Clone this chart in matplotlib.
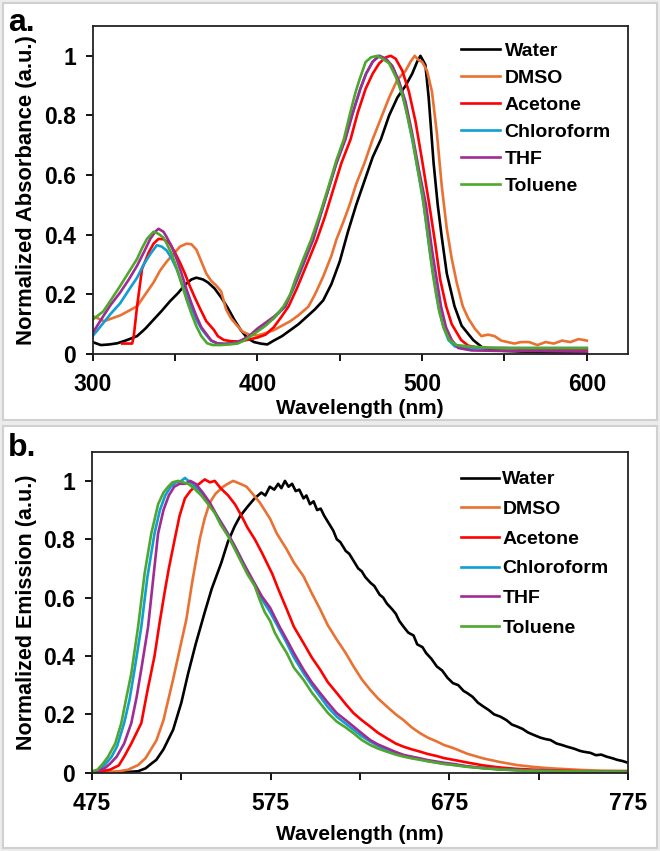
import numpy as np
import matplotlib
matplotlib.use("Agg")
import matplotlib.pyplot as plt
from matplotlib.patches import Rectangle

plt.rcParams['font.family'] = ['Liberation Sans Narrow', 'Liberation Sans', 'DejaVu Sans']

# ---- (a) absorbance: (wavelength [nm], normalized absorbance) ----
abs_water = [(300, 0.04), (305, 0.03), (310, 0.032), (315, 0.036), (320, 0.045), (327, 0.06),
             (332, 0.085), (337, 0.115), (342, 0.145), (347, 0.177), (352, 0.205), (356, 0.232),
             (360, 0.25), (363, 0.256), (367, 0.25), (370, 0.24), (374, 0.22), (378, 0.19),
             (382, 0.155), (386, 0.115), (390, 0.08), (394, 0.053), (398, 0.04), (402, 0.035),
             (406, 0.032), (410, 0.045), (415, 0.06), (420, 0.08), (425, 0.1), (430, 0.125),
             (435, 0.15), (440, 0.18), (445, 0.235), (450, 0.31), (455, 0.41), (460, 0.5),
             (465, 0.58), (470, 0.66), (475, 0.72), (480, 0.8), (485, 0.86), (490, 0.9),
             (494, 0.94), (497, 0.98), (499, 1.0), (502, 0.97), (504, 0.86), (507, 0.64),
             (509.5, 0.5), (512, 0.39), (515, 0.27), (519.7, 0.16), (524, 0.095), (531, 0.047),
             (537, 0.02), (545, 0.012), (560, 0.008), (580, 0.006), (600, 0.005)]
abs_dmso = [(300, 0.127), (303, 0.12), (307, 0.11), (312, 0.12), (317, 0.13), (322, 0.145),
            (327, 0.16), (332, 0.2), (337, 0.24), (341, 0.28), (345, 0.31), (349, 0.335),
            (353, 0.36), (357, 0.37), (360, 0.368), (363, 0.35), (366, 0.31), (369, 0.27),
            (372, 0.245), (375, 0.23), (378, 0.21), (381, 0.15), (384, 0.12), (387, 0.1),
            (391, 0.075), (395, 0.065), (400, 0.062), (405, 0.07), (410, 0.08), (415, 0.095),
            (420, 0.11), (425, 0.13), (431, 0.159), (435, 0.2), (440, 0.26), (445, 0.33),
            (448, 0.384), (452, 0.44), (456, 0.5), (460, 0.57), (465, 0.64), (470, 0.72),
            (475, 0.79), (480, 0.86), (485, 0.92), (490, 0.95), (493, 0.98), (495.5, 1.0),
            (498, 0.985), (500, 0.98), (503, 0.95), (506, 0.88), (509, 0.74), (512, 0.56),
            (515, 0.42), (518, 0.32), (521, 0.24), (524.7, 0.16), (528, 0.12), (532, 0.085),
            (536, 0.06), (540, 0.065), (544, 0.06), (548, 0.045), (552, 0.04), (556, 0.035),
            (560, 0.04), (565, 0.04), (570, 0.03), (575, 0.04), (580, 0.035), (585, 0.045),
            (590, 0.04), (595, 0.05), (600, 0.045)]
abs_acetone = [(318, 0.035), (321, 0.035), (324, 0.035), (325, 0.06), (327, 0.16), (330, 0.285),
               (334, 0.34), (337, 0.37), (340, 0.386), (343, 0.385), (347, 0.37), (350, 0.34),
               (353, 0.307), (356, 0.27), (359, 0.228), (362, 0.19), (365.5, 0.149), (369, 0.11),
               (373.6, 0.081), (376, 0.06), (379.7, 0.047), (384, 0.043), (388, 0.042), (392, 0.045),
               (396, 0.05), (400, 0.055), (405, 0.065), (410, 0.09), (414, 0.12), (418.9, 0.159),
               (424, 0.22), (430, 0.3), (436.2, 0.384), (441, 0.46), (446, 0.55), (451, 0.64),
               (456.6, 0.72), (461, 0.81), (465.7, 0.889), (470, 0.94), (474, 0.975), (478, 0.995),
               (481, 1.0), (484, 0.99), (488, 0.95), (492, 0.88), (496, 0.78), (500, 0.65),
               (504.4, 0.5), (508, 0.37), (511, 0.25), (514.6, 0.16), (518, 0.1), (523.7, 0.047),
               (528, 0.028), (535, 0.02), (550, 0.02), (570, 0.015), (600, 0.015)]
abs_chloroform = [(300, 0.06), (303, 0.08), (306.5, 0.104), (311, 0.135), (316.7, 0.17), (322, 0.215),
                  (327, 0.256), (331, 0.3), (335, 0.335), (339, 0.365), (342, 0.36), (345, 0.347),
                  (348, 0.32), (351, 0.285), (354, 0.24), (357, 0.194), (360, 0.155), (363, 0.115),
                  (366, 0.085), (369.5, 0.06), (372, 0.045), (375.6, 0.036), (380, 0.034), (385, 0.036),
                  (390, 0.042), (395, 0.058), (400, 0.08), (405, 0.1), (410, 0.12), (416.9, 0.159),
                  (422, 0.22), (428, 0.3), (433.6, 0.384), (438, 0.46), (443, 0.55), (448, 0.64),
                  (453, 0.72), (458, 0.81), (462.5, 0.889), (466, 0.94), (470, 0.98), (474, 1.0),
                  (478, 0.99), (482, 0.965), (486, 0.91), (490, 0.83), (494, 0.72), (498, 0.6),
                  (501, 0.5), (505, 0.33), (510, 0.16), (513, 0.09), (516, 0.047), (520, 0.025),
                  (525, 0.02), (540, 0.02), (560, 0.02), (580, 0.02), (600, 0.02)]
abs_thf = [(300, 0.07), (306.5, 0.127), (311, 0.165), (316.7, 0.206), (322, 0.25), (327, 0.296),
           (331, 0.34), (335, 0.386), (338, 0.41), (340, 0.42), (343, 0.41), (345, 0.392),
           (348, 0.36), (351, 0.319), (354, 0.27), (357, 0.217), (360, 0.17), (363, 0.127),
           (366, 0.09), (369.5, 0.064), (372, 0.045), (375.6, 0.036), (380, 0.034), (385, 0.036),
           (390, 0.045), (395, 0.06), (400, 0.085), (405, 0.105), (410, 0.125), (416.9, 0.159),
           (422, 0.225), (428, 0.305), (434, 0.384), (438, 0.46), (443, 0.55), (448, 0.64),
           (453.5, 0.72), (458, 0.81), (462.5, 0.889), (466, 0.94), (470, 0.98), (474, 1.0),
           (478, 0.99), (482, 0.965), (486, 0.915), (490, 0.845), (494, 0.74), (498, 0.62),
           (502.4, 0.5), (506, 0.35), (511.5, 0.16), (514.5, 0.09), (518, 0.047), (522, 0.02),
           (530, 0.012), (550, 0.01), (570, 0.01), (600, 0.008)]
abs_toluene = [(300, 0.115), (306.5, 0.143), (311, 0.18), (316.7, 0.228), (322, 0.275), (327, 0.319),
               (330, 0.355), (333, 0.386), (337, 0.41), (340, 0.403), (343, 0.39), (345, 0.37),
               (348, 0.335), (351, 0.29), (354, 0.235), (357, 0.183), (360, 0.135), (363, 0.093),
               (366, 0.06), (369.5, 0.036), (373, 0.03), (377.6, 0.03), (383, 0.032), (388, 0.035),
               (392, 0.045), (396, 0.06), (400, 0.075), (405, 0.095), (410, 0.12), (415.8, 0.159),
               (420, 0.2), (423, 0.249), (428, 0.32), (432.7, 0.384), (438, 0.47), (443.3, 0.563),
               (448, 0.65), (452.5, 0.72), (456, 0.8), (459.6, 0.878), (462, 0.92), (465.7, 0.979),
               (469, 0.995), (472.8, 1.0), (476, 0.99), (480, 0.975), (484, 0.93), (488, 0.87),
               (491, 0.8), (494.2, 0.72), (497, 0.63), (500.3, 0.53), (503.5, 0.4), (506.4, 0.272),
               (508.5, 0.2), (510.5, 0.14), (513, 0.09), (514.6, 0.07), (516.6, 0.047), (520.7, 0.03),
               (529, 0.025), (545, 0.02), (565, 0.02), (585, 0.02), (600, 0.02)]

# ---- (b) emission: (wavelength [nm], normalized emission) ----
em_water = [(475, 0.0), (490, 0.0), (496, 0.003), (500.8, 0.005), (505, 0.015), (508, 0.03),
            (511, 0.044), (515, 0.08), (520.4, 0.147), (525, 0.24), (528.8, 0.34), (533, 0.44),
            (538.1, 0.55), (542, 0.63), (547.4, 0.72), (551, 0.79), (554.9, 0.845), (558, 0.88),
            (562.4, 0.914), (566, 0.94), (569.8, 0.96), (572, 0.95), (574.5, 0.98), (577, 0.97),
            (579.2, 0.99), (581, 0.975), (583, 1.0), (585, 0.98), (587, 0.99), (589, 0.965),
            (591, 0.97), (593.4, 0.94), (595, 0.95), (597, 0.92), (599, 0.93), (601, 0.9),
            (603, 0.905), (605, 0.88), (608, 0.85), (610, 0.83), (612, 0.8), (614, 0.79),
            (617, 0.76), (619, 0.75), (621, 0.73), (624, 0.7), (626, 0.69), (628, 0.67),
            (631, 0.65), (633, 0.64), (636, 0.61), (638, 0.6), (640, 0.58), (643, 0.56),
            (645, 0.545), (647, 0.52), (649.4, 0.5), (652, 0.48), (655, 0.47), (657, 0.44),
            (660, 0.43), (662, 0.41), (665, 0.39), (668, 0.364), (671, 0.35), (674, 0.325),
            (677, 0.307), (680, 0.3), (683, 0.28), (685, 0.273), (688, 0.26), (691, 0.24),
            (694, 0.227), (697, 0.215), (700, 0.2), (703.6, 0.192), (707, 0.18), (710, 0.165),
            (713, 0.158), (716, 0.15), (719, 0.138), (722, 0.13), (726, 0.12), (729, 0.115),
            (731.6, 0.112), (735, 0.1), (738, 0.095), (741, 0.089), (745, 0.082), (748, 0.075),
            (750, 0.072), (754, 0.068), (757, 0.06), (760, 0.062), (763, 0.055), (766, 0.05),
            (769, 0.044), (772, 0.04), (775, 0.034)]
em_dmso = [(475, 0.0), (490, 0.005), (495, 0.01), (500.8, 0.026), (505, 0.05), (511, 0.11),
           (515, 0.18), (520.4, 0.32), (524, 0.42), (527.8, 0.525), (531, 0.65), (535.3, 0.8),
           (538, 0.87), (540.9, 0.925), (544, 0.955), (548.4, 0.98), (551, 0.99), (554, 1.0),
           (558, 0.99), (561.5, 0.98), (565, 0.955), (569, 0.925), (574.7, 0.87), (578.4, 0.82),
           (584, 0.765), (588, 0.72), (593.4, 0.673), (598, 0.615), (602.7, 0.56), (607, 0.505),
           (612, 0.456), (617, 0.41), (621.4, 0.364), (626, 0.32), (630.7, 0.284), (635, 0.255),
           (640, 0.227), (645, 0.2), (649.4, 0.18), (654, 0.155), (658.7, 0.135), (663, 0.12),
           (668, 0.107), (672, 0.095), (677.4, 0.084), (685, 0.065), (694, 0.049), (703, 0.037),
           (713, 0.026), (722, 0.02), (731.6, 0.015), (741, 0.012), (750, 0.009), (760, 0.007),
           (775, 0.006)]
em_acetone = [(475, 0.0), (485, 0.01), (490, 0.025), (493, 0.055), (497, 0.1), (502.6, 0.17),
              (506, 0.28), (510, 0.4), (513, 0.52), (515.7, 0.62), (518, 0.7), (521.3, 0.8),
              (524, 0.88), (527, 0.94), (530, 0.965), (532.5, 0.98), (535, 0.99), (538.1, 1.005),
              (541, 0.995), (543.7, 1.0), (547, 0.975), (551.2, 0.95), (555, 0.92), (558.7, 0.88),
              (562, 0.84), (566.1, 0.8), (570, 0.755), (573.6, 0.71), (576, 0.68), (579.2, 0.63),
              (584, 0.56), (588, 0.5), (593.4, 0.444), (598, 0.395), (602.7, 0.353), (607, 0.31),
              (612, 0.273), (617, 0.235), (621.4, 0.204), (626, 0.18), (630.7, 0.158), (635, 0.137),
              (640, 0.118), (645, 0.1), (649.4, 0.089), (654, 0.08), (658.7, 0.072), (663, 0.064),
              (668, 0.057), (672, 0.05), (677.4, 0.044), (685, 0.035), (694, 0.025), (703, 0.018),
              (713, 0.013), (730, 0.008), (750, 0.005), (775, 0.004)]
em_chloroform = [(475, 0.003), (478, 0.008), (481, 0.02), (484, 0.04), (486, 0.055), (489, 0.09),
                 (493, 0.17), (496, 0.25), (499, 0.36), (502.6, 0.5), (506, 0.67), (510, 0.82),
                 (513, 0.9), (516, 0.95), (519, 0.98), (522, 0.995), (525, 1.0), (527, 1.01),
                 (530, 0.995), (533, 0.98), (537, 0.955), (541, 0.92), (545, 0.88), (550, 0.83),
                 (555, 0.775), (560, 0.715), (565, 0.655), (570, 0.595), (574.7, 0.55), (580, 0.49),
                 (584, 0.444), (588, 0.395), (593.4, 0.341), (598, 0.3), (602.7, 0.261), (607, 0.225),
                 (612, 0.192), (617, 0.168), (621.4, 0.147), (626, 0.125), (630.7, 0.107), (635, 0.092),
                 (640, 0.078), (645, 0.066), (649.4, 0.057), (654, 0.051), (658.7, 0.046), (663, 0.04),
                 (668, 0.035), (672, 0.031), (677.4, 0.027), (685, 0.021), (694, 0.016), (703, 0.012),
                 (713, 0.009), (730, 0.006), (750, 0.004), (775, 0.003)]
em_thf = [(475, 0.0), (478, 0.005), (482, 0.015), (485, 0.03), (488.8, 0.055), (493, 0.1),
          (497, 0.17), (500, 0.26), (503, 0.37), (506.4, 0.5), (509, 0.65), (512, 0.82),
          (515, 0.9), (518, 0.95), (521, 0.98), (524, 0.99), (527, 0.99), (530, 1.0),
          (533, 0.99), (537, 0.96), (541, 0.925), (545, 0.88), (550, 0.83), (555, 0.775),
          (560, 0.715), (565, 0.66), (570, 0.605), (574.7, 0.565), (580, 0.5), (584, 0.456),
          (588, 0.41), (593.4, 0.353), (598, 0.31), (602.7, 0.273), (607, 0.24), (612, 0.204),
          (617, 0.18), (621.4, 0.158), (626, 0.135), (630.7, 0.112), (635, 0.097), (640, 0.084),
          (645, 0.071), (649.4, 0.061), (654, 0.055), (658.7, 0.049), (663, 0.043), (668, 0.038),
          (672, 0.034), (677.4, 0.03), (685, 0.022), (694, 0.016), (703, 0.012), (713, 0.009),
          (730, 0.006), (750, 0.004), (775, 0.003)]
em_toluene = [(475, 0.005), (478, 0.01), (481, 0.03), (484, 0.055), (488, 0.1), (491.4, 0.17),
              (494, 0.25), (497, 0.34), (500.8, 0.5), (504.5, 0.685), (508.2, 0.82), (512, 0.92),
              (515, 0.96), (517.6, 0.98), (520, 0.995), (523.2, 1.0), (526, 0.995), (528.8, 0.99),
              (532, 0.975), (536.2, 0.95), (540, 0.92), (543.7, 0.89), (547, 0.85), (551.2, 0.81),
              (555, 0.765), (558.7, 0.72), (562, 0.68), (566.1, 0.64), (569, 0.59), (571.7, 0.55),
              (574.7, 0.52), (577.3, 0.48), (580, 0.45), (584, 0.41), (588, 0.36), (593.4, 0.318),
              (598, 0.275), (602.7, 0.238), (607, 0.205), (612, 0.175), (617, 0.155), (621.4, 0.135),
              (626, 0.112), (630.7, 0.095), (635, 0.083), (640, 0.072), (645, 0.062), (649.4, 0.055),
              (654, 0.049), (658.7, 0.044), (663, 0.039), (668, 0.034), (672, 0.03), (677.4, 0.026),
              (685, 0.02), (694, 0.015), (703, 0.011), (713, 0.008), (730, 0.005), (750, 0.004),
              (775, 0.003)]

solvents = ['Water', 'DMSO', 'Acetone', 'Chloroform', 'THF', 'Toluene']
colors = ['#000000', '#E97132', '#FF0000', '#0F9ED5', '#A02B93', '#4EA72E']
abs_series = [abs_water, abs_dmso, abs_acetone, abs_chloroform, abs_thf, abs_toluene]
em_series = [em_water, em_dmso, em_acetone, em_chloroform, em_thf, em_toluene]

W, H = 660, 851
fig = plt.figure(figsize=(W / 100, H / 100), dpi=100)
fig.patch.set_facecolor('#ececec')

# white panel boxes with grey border, kept behind the axes
for (y0, y1) in [(3, 420), (426, 848)]:
    fig.patches.append(Rectangle((3 / W, 1 - y1 / H), 654 / W, (y1 - y0) / H,
                                 transform=fig.transFigure, facecolor='white',
                                 edgecolor='#d0d0d0', lw=1.5, zorder=-10))

ax1 = fig.add_axes([92.6 / W, 1 - 354 / H, 535.4 / W, 328 / H])
ax2 = fig.add_axes([92 / W, 1 - 772.7 / H, 536 / W, 321 / H])


def style_axis(ax, xmin, xmax, xticks, xlabels, ylabel, ysize, xlabelpad):
    ax.set_xlim(xmin, xmax)
    ax.set_ylim(0, 1.1)
    ax.set_xticks(xticks)
    ax.set_xticklabels(xlabels)
    ax.set_yticks([0, 0.2, 0.4, 0.6, 0.8, 1.0])
    ax.set_yticklabels(['0', '0.2', '0.4', '0.6', '0.8', '1'])
    ax.tick_params(direction='out', length=5, width=1.3, labelsize=16.5)
    ax.tick_params(axis='x', pad=9)
    ax.tick_params(axis='y', pad=7)
    for lab in ax.get_xticklabels() + ax.get_yticklabels():
        lab.set_fontweight('bold')
    for sp in ax.spines.values():
        sp.set_linewidth(1.3)
        sp.set_color('#222222')
    ax.set_xlabel('Wavelength (nm)', fontsize=15, fontweight='bold', labelpad=xlabelpad)
    ax.set_ylabel(ylabel, fontsize=ysize, fontweight='bold', labelpad=5)


for name, col, pts in zip(solvents, colors, abs_series):
    arr = np.array(pts)
    ax1.plot(arr[:, 0], arr[:, 1], color=col, lw=1.9, label=name)
for name, col, pts in zip(solvents, colors, em_series):
    arr = np.array(pts)
    ax2.plot(arr[:, 0], arr[:, 1], color=col, lw=1.9, label=name)

style_axis(ax1, 300, 625, np.arange(300, 601, 50),
           ['300', '', '400', '', '500', '', '600'], 'Normalized Absorbance (a.u.)', 15.8, 2)
style_axis(ax2, 475, 775, np.arange(475, 776, 50),
           ['475', '', '575', '', '675', '', '775'], 'Normalized Emission (a.u.)', 15.5, 7)

ax1.legend(loc='upper left', bbox_to_anchor=(0.655, 1.003), frameon=False,
           handlelength=2.0, handletextpad=0.25, labelspacing=0.48,
           prop={'size': 14, 'weight': 'bold'})
ax2.legend(loc='upper left', bbox_to_anchor=(0.655, 0.995), frameon=False,
           handlelength=2.0, handletextpad=0.15, labelspacing=0.62,
           prop={'size': 14, 'weight': 'bold'})

fig.text(8 / W, 1 - 31 / H, 'a.', fontsize=23, fontweight='bold')
fig.text(8 / W, 1 - 456 / H, 'b.', fontsize=23, fontweight='bold')

fig.savefig('out.png', dpi=100, facecolor=fig.get_facecolor())
